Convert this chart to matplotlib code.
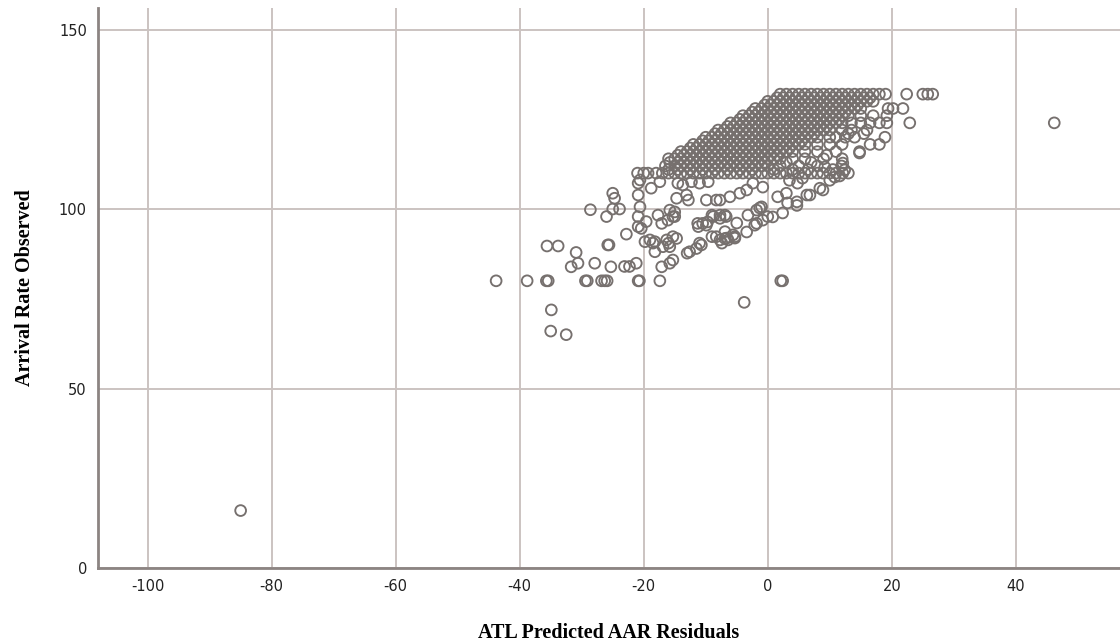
import matplotlib.pyplot as plt

plt.rcParams['axes.unicode_minus'] = False

# dense upper part of the cloud, one list of residuals per observed rate
levels = [132, 131, 130, 129, 128, 127, 126, 125, 124, 123, 122, 121,
          120, 119, 118, 117, 116, 115, 114, 113, 112, 111, 110]
res_132 = [2, 3, 4, 5, 6, 7, 8, 9, 10, 11, 12, 13, 14, 15, 16, 17, 18, 19, 22.4, 25, 25.8, 26.6]
res_131 = [1.5, 2.5, 3.5, 4.5, 5.5, 6.5, 7.5, 8.5, 9.5, 10.5, 11.5, 12.5, 13.5, 14.5, 15.5, 16.5]
res_130 = [0, 1, 2, 3, 4, 5, 6, 7, 8, 9, 10, 11, 12, 13, 14, 15, 16, 17]
res_129 = [-0.5, 0.5, 1.5, 2.5, 3.5, 4.5, 5.5, 6.5, 7.5, 8.5, 9.5, 10.5, 11.5, 12.5, 13.5, 14.5]
res_128 = [-2, -1, 0, 1, 2, 3, 4, 5, 6, 7, 8, 9, 10, 11, 12, 13, 14, 15, 19.4, 20.2, 21.8]
res_127 = [-2.5, -1.5, -0.5, 0.5, 1.5, 2.5, 3.5, 4.5, 5.5, 6.5, 7.5, 8.5, 9.5, 10.5, 11.5, 12.5]
res_126 = [-4, -3, -2, -1, 0, 1, 2, 3, 4, 5, 6, 7, 8, 9, 10, 11, 12, 13, 15, 17, 19.2]
res_125 = [-4.5, -3.5, -2.5, -1.5, -0.5, 0.5, 1.5, 2.5, 3.5, 4.5, 5.5, 6.5, 7.5, 8.5, 9.5, 10.5, 11.5]
res_124 = [-6, -5, -4, -3, -2, -1, 0, 1, 2, 3, 4, 5, 6, 7, 8, 9, 10, 11, 12,
           13.5, 15, 16.5, 18, 19.2, 22.9]
res_123 = [-6.5, -5.5, -4.5, -3.5, -2.5, -1.5, -0.5, 0.5, 1.5, 2.5, 3.5, 4.5, 5.5, 6.5, 7.5, 8.5, 9.5]
res_122 = [-8, -7, -6, -5, -4, -3, -2, -1, 0, 1, 2, 3, 4, 5, 6, 7, 8, 9, 10, 12, 13.5, 16]
res_121 = [-8.5, -7.5, -6.5, -5.5, -4.5, -3.5, -2.5, -1.5, -0.5, 0.5, 1.5, 2.5, 3.5, 4.5, 5.5,
           6.5, 7.5, 13, 15.5]
res_120 = [-10, -9, -8, -7, -6, -5, -4, -3, -2, -1, 0, 1, 2, 3, 4, 5, 6, 7, 8,
           10, 11, 12.5, 14, 18.9]
res_119 = [-10.5, -9.5, -8.5, -7.5, -6.5, -5.5, -4.5, -3.5, -2.5, -1.5, -0.5, 0.5, 1.5, 2.5,
           3.5, 4.5, 5.5]
res_118 = [-12, -11, -10, -9, -8, -7, -6, -5, -4, -3, -2, -1, 0, 1, 2, 3, 4, 5, 6,
           8, 10, 12, 16.5, 18]
res_117 = [-12.5, -11.5, -10.5, -9.5, -8.5, -7.5, -6.5, -5.5, -4.5, -3.5, -2.5, -1.5, -0.5,
           0.5, 1.5, 2.5, 3.5]
res_116 = [-14, -13, -12, -11, -10, -9, -8, -7, -6, -5, -4, -3, -2, -1, 0, 1, 2, 3, 4,
           6, 8, 11, 14.8]
res_115 = [-14.5, -13.5, -12.5, -11.5, -10.5, -9.5, -8.5, -7.5, -6.5, -5.5, -4.5, -3.5, -2.5,
           -1.5, -0.5, 0.5, 1.5, 9.5]
res_114 = [-16, -15, -14, -13, -12, -11, -10, -9, -8, -7, -6, -5, -4, -3, -2, -1, 0, 1, 2,
           4, 6, 9, 12]
res_113 = [-15.8, -14.5, -13.5, -12.5, -11.5, -10.5, -9.5, -8.5, -7.5, -6.5, -5.5, -4.5, -3.5,
           -2.5, -1.5, -0.5, 3, 7]
res_112 = [-16.5, -15, -14, -13, -12, -11, -10, -9, -8, -7, -6, -5, -4, -3, -2, -1, 0,
           2, 5, 8, 11.9]
res_111 = [-16, -14.5, -12.5, -10.5, -8.5, -6.5, -4.5, -2.5, 1, 4, 6.5, 10.5]
res_110 = [-21, -20, -19.3, -18, -17, -16, -15, -14, -13, -12, -11, -10, -9, -8, -7, -6,
           -5, -4, -3, -2, -1, 0, 1, 2, 3, 4, 5, 6, 7, 8, 8.9, 10, 11, 12.1, 13]

# sparser lower part and the outliers
sparse_res = [-43.8, -38.8, -35.7, -35.4, -29.4, -29.1, -26.8, -26.3, -25.9, -20.9, -20.7, -17.4, 2.1, 2.4,
              -35.6, -33.8, -30.9, -31.7, -30.6, -27.9, -25.8, -25.6, -25.3, -23.1, -22.3, -21.2,
              -34.9, -35.0, -32.5, -3.8, -85.0, 46.2,
              -28.6, -26.0, -25.0, -23.9, -25.0, -24.7, -22.8, -20.9, -20.9, -20.6, -20.9, -20.9,
              -20.6, -19.8, -18.2, -18.2, -17.7, -17.1, -17.1, -15.8, -19.6, -20.4, -19.0, -16.1,
              -15.0, -15.8, -14.7, -16.3, -14.7, -16.9, -15.8, -13.1, -12.8, -12.6, -11.5, -10.7,
              -14.5, -13.7, -12.3, -11.0, -9.6, -9.9, -8.3, -11.2, -9.9, -8.8, -7.7, -6.7,
              -8.3, -6.9, -5.6, -18.8, -17.4,
              -15.3, -13.0, -11.0, -7.7, -3.4, -1.8, 0.8, 2.4, 4.7, 6.8, 8.4, 10.0, 11.6, 12.1,
              -15.3, -15.0, -18.5, -16.0, -15.3, -11.3, -10.5, -9.7, -9.0, -7.7, -6.9,
              -9.0, -7.4, -6.4, -5.3, -6.9, -5.0, -3.2, -1.8, -1.0, -0.8,
              -6.6, -5.3, -2.1, -1.3, 0.0, 3.2, 4.7, 1.6, 3.0, 6.3, 8.9, 10.8,
              9.2, 12.4, 14.8, -7.7, -6.1, -4.5, -3.4, -2.4, -0.8, 3.5, 4.8, 5.6]
sparse_obs = [80, 80, 80, 80, 80, 80, 80, 80, 80, 80, 80, 80, 80, 80,
              89.7, 89.7, 87.9, 83.9, 84.9, 84.9, 90, 90, 83.9, 84, 84, 84.9,
              71.9, 66, 65, 74, 16, 124,
              99.8, 97.9, 100, 100, 104.4, 103, 93, 97.9, 95.1, 100.6, 103.9, 107.2,
              108.1, 90.9, 90.9, 88.1, 98.3, 96, 83.9, 84.9, 96.5, 94.6, 91.4, 96.9,
              97.9, 99.7, 103, 91.4, 91.8, 89.5, 89.5, 103.9, 102.5, 88.1, 89, 90,
              107.2, 106.7, 107.6, 107.2, 107.6, 102.5, 102.5, 95.1, 95.5, 97.9, 97.4, 97.9,
              92.3, 91.8, 92.8, 105.8, 107.6,
              85.8, 87.7, 90.5, 91.4, 93.6, 96, 97.8, 98.9, 101, 103.9, 105.8, 108, 109.2, 112.8,
              97.9, 99.2, 90.5, 90.5, 92.3, 96, 96, 96.4, 98.3, 98.3, 98.3,
              92.3, 90.5, 91.4, 92.3, 93.7, 96.1, 98.3, 99.7, 100.6, 96.9,
              91.9, 91.9, 95.5, 100.3, 97.9, 101.7, 102, 103.4, 104.4, 103.9, 105.3, 108.9,
              111.7, 110.9, 115.6, 102.5, 103.4, 104.4, 105.3, 107.2, 106.1, 108, 107.2, 108.6]

rows = [res_132, res_131, res_130, res_129, res_128, res_127, res_126, res_125,
        res_124, res_123, res_122, res_121, res_120, res_119, res_118, res_117,
        res_116, res_115, res_114, res_113, res_112, res_111, res_110]
x = [r for xs in rows for r in xs] + sparse_res
y = [lvl for lvl, xs in zip(levels, rows) for _ in xs] + sparse_obs

fig = plt.figure(figsize=(11.2, 6.44), dpi=100)
ax = fig.add_axes([0.0875, 0.118, 0.9125, 0.8696])

ax.scatter(x, y, s=60, facecolors='none', edgecolors='#76706e', linewidths=1.35, zorder=3)

ax.set_xlim(-108, 56.8)
ax.set_ylim(0, 156)
ax.set_xticks([-100, -80, -60, -40, -20, 0, 20, 40])
ax.set_yticks([0, 50, 100, 150])
ax.grid(True, color='#cbc3c1', linewidth=1.4, zorder=0)
ax.set_axisbelow(True)

for side in ['top', 'right']:
    ax.spines[side].set_visible(False)
for side in ['left', 'bottom']:
    ax.spines[side].set_color('#8c8482')
    ax.spines[side].set_linewidth(2)

ax.tick_params(length=0, labelsize=10.5, labelcolor='#222222', pad=8)

ax.set_xlabel('ATL Predicted AAR Residuals', family='Liberation Serif',
              fontweight='bold', fontsize=14.5, labelpad=21)
ax.set_ylabel('Arrival Rate Observed', family='Liberation Serif',
              fontweight='bold', fontsize=14.5, labelpad=17)

fig.savefig('out.png', dpi=100)
